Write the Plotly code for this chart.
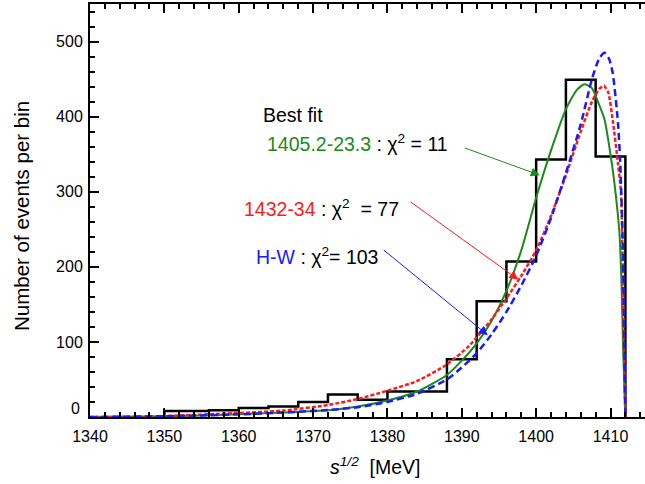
import plotly.graph_objects as go

# Histogram (data)
bin_edges = [1350, 1356, 1360, 1364, 1368, 1372, 1376, 1380, 1384, 1388, 1392, 1396, 1400, 1404, 1408, 1412]
bin_counts = [8, 9, 12, 14, 20, 30, 23, 34, 34, 77, 154, 207, 343, 449, 347]

# Fit curves
green_x = [1340, 1348, 1355, 1361, 1366, 1372, 1376, 1380, 1384, 1388, 1390, 1392, 1394, 1396, 1398, 1400, 1402, 1404, 1405.5, 1406.5, 1407.5, 1408.3, 1409.2, 1410.1, 1410.6, 1411.2, 1411.5, 1411.7, 1412]
green_y = [0, 0.5, 2, 4, 6, 9, 14, 22, 34, 56, 75, 98, 128, 168, 222, 292, 355, 410, 436, 443, 438, 420, 396, 343, 305, 245, 170, 89, 0]

red_x = [1340, 1348, 1357, 1366, 1372, 1376, 1380, 1384, 1388, 1391, 1394, 1396, 1398, 1400, 1402, 1404, 1406, 1407.5, 1408.5, 1409.1, 1409.7, 1410.3, 1411, 1411.4, 1411.6, 1411.8, 1412]
red_y = [0, 0.5, 4, 8.5, 16, 24, 35, 48, 70, 95, 130, 158, 188, 222, 268, 322, 380, 420, 437, 441, 432, 395, 338, 300, 222, 100, 0]

blue_x = [1340, 1350, 1360, 1366, 1372, 1376, 1380, 1384, 1388, 1390, 1392, 1394, 1396, 1398, 1400, 1402, 1404, 1406, 1407.5, 1408.5, 1409.2, 1409.8, 1410.3, 1411, 1411.3, 1411.6, 1411.85, 1412]
blue_y = [0, 1, 3.5, 6, 9.3, 13, 20, 31, 50, 66, 85, 110, 140, 175, 215, 265, 325, 390, 450, 478, 485, 477, 458, 392, 340, 250, 100, 0]

x_ticks = [1340, 1350, 1360, 1370, 1380, 1390, 1400, 1410]
y_ticks = [0, 100, 200, 300, 400, 500]

# Build step outline of the histogram from the data
hist_x = [bin_edges[0]] + bin_edges[:-1] + [bin_edges[-1]]
hist_y = [0] + bin_counts + [0]

FONT = "Liberation Sans, Arial, sans-serif"

fig = go.Figure()
fig.add_trace(go.Scatter(x=hist_x, y=hist_y, mode="lines", line=dict(color="black", width=2.5, shape="hv"),
                         showlegend=False, hoverinfo="skip"))
fig.add_trace(go.Scatter(x=green_x, y=green_y, mode="lines",
                         line=dict(color="#1a8a1a", width=2, shape="spline", smoothing=0.6), showlegend=False))
fig.add_trace(go.Scatter(x=red_x, y=red_y, mode="lines",
                         line=dict(color="#ff1a1a", width=2.5, dash="4px,2px", shape="spline", smoothing=0.6), showlegend=False))
fig.add_trace(go.Scatter(x=blue_x, y=blue_y, mode="lines",
                         line=dict(color="#1a1aff", width=2.5, dash="7px,4px", shape="spline", smoothing=0.6), showlegend=False))

W, H = 645, 484
L, T, B = 90, 4, 67
PW, PH = W - L, H - T - B


def px(xp):
    return (xp - L) / PW


def py(yp):
    return (H - B - yp) / PH


ann = []
txt_font = dict(family=FONT, size=19.5, color="black")
tick_font = dict(family=FONT, size=16, color="black")
ann.append(dict(x=px(261), y=py(115), xref="paper", yref="paper", text="Best fit", showarrow=False,
                xanchor="left", yanchor="middle", font=txt_font))
ann.append(dict(x=px(265), y=py(143), xref="paper", yref="paper",
                text='<span style="color:#1a8a1a">1405.2-23.3</span> : χ<sup>2</sup> = 11', showarrow=False,
                xanchor="left", yanchor="middle", font=txt_font))
ann.append(dict(x=px(242), y=py(208), xref="paper", yref="paper",
                text='<span style="color:#ff1a1a">1432-34</span> : χ<sup>2</sup>  = 77', showarrow=False,
                xanchor="left", yanchor="middle", font=txt_font))
ann.append(dict(x=px(254), y=py(256), xref="paper", yref="paper",
                text='<span style="color:#1a1aff">H-W</span> : χ<sup>2</sup>= 103', showarrow=False,
                xanchor="left", yanchor="middle", font=txt_font))

# arrows (tip x,y ; tail ax,ay) in data coords
for (tx, ty, ax, ay, col) in [(1400.5, 322, 1390.2, 359, "#1a8a1a"),
                              (1397.6, 183, 1382.9, 288, "#ff1a1a"),
                              (1393.5, 109, 1379.3, 224, "#1a1aff")]:
    ann.append(dict(x=tx, y=ty, ax=ax, ay=ay, xref="x", yref="y", axref="x", ayref="y", text="",
                    showarrow=True, arrowhead=2, arrowsize=1.8, arrowwidth=1, arrowcolor=col, standoff=0))

# axis titles
ann.append(dict(x=px(375), y=py(466), xref="paper", yref="paper",
                text="<i>s</i><sup><i>1/2</i></sup>  [MeV]", showarrow=False,
                xanchor="center", yanchor="middle", font=txt_font))
ann.append(dict(x=px(21), y=py(216), xref="paper", yref="paper",
                text="Number of events per bin", showarrow=False, textangle=-90,
                xanchor="center", yanchor="middle", font=dict(family=FONT, size=20.5, color="black")))
# the "0" label of the y axis sits slightly raised in the original
ann.append(dict(x=px(82), y=py(408), xref="paper", yref="paper", text=str(y_ticks[0]), showarrow=False,
                xanchor="right", yanchor="middle", font=tick_font))

fig.update_layout(
    width=W, height=H,
    margin=dict(l=L, r=0, t=T, b=B, autoexpand=False),
    paper_bgcolor="white", plot_bgcolor="white",
    annotations=ann,
    xaxis=dict(range=[1340, 1340 + PW / 7.436], tickvals=x_ticks,
               ticks="inside", ticklen=9, tickwidth=1.5, tickcolor="black",
               showline=True, linecolor="black", linewidth=2, mirror="ticks",
               showgrid=False, zeroline=False, ticklabelstandoff=4,
               tickfont=tick_font,
               minor=dict(dtick=2, ticks="inside", ticklen=5, tickwidth=1.5, tickcolor="black", showgrid=False)),
    yaxis=dict(range=[0, 550], tickvals=y_ticks, ticktext=[""] + [str(v) for v in y_ticks[1:]],
               ticks="inside", ticklen=9, tickwidth=1.5, tickcolor="black",
               showline=True, linecolor="black", linewidth=2, mirror=False,
               showgrid=False, zeroline=False, ticklabelstandoff=2,
               tickfont=tick_font,
               minor=dict(dtick=20, ticks="inside", ticklen=5, tickwidth=1.5, tickcolor="black", showgrid=False)),
)

fig.write_html("out.html", config={"displayModeBar": False},
               post_script="document.body.style.margin='0px';document.body.style.overflow='hidden';")
